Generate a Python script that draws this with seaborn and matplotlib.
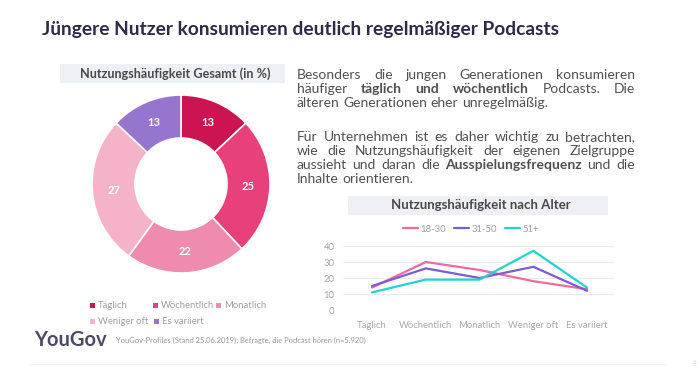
import matplotlib
matplotlib.use("Agg")
import matplotlib.pyplot as plt
from matplotlib.patches import Rectangle
from matplotlib.lines import Line2D
import seaborn as sns
import pandas as pd
import numpy as np

# ---------------- data ----------------
categories = ["Täglich", "Wöchentlich", "Monatlich", "Weniger oft", "Es variiert"]
gesamt = [13, 25, 22, 27, 13]
donut_colors = ["#CC1452", "#E8407A", "#F08BB0", "#F5B3C9", "#9575CD"]

age_groups = ["18-30", "31-50", "51+"]
v_18_30 = [14, 30, 25, 18, 13]
v_31_50 = [15, 26, 20, 27, 12]
v_51 = [11, 19, 19, 37, 14]
line_colors = ["#F06A9E", "#7B5CD6", "#22D3CF"]
y_ticks = [0, 10, 20, 30, 40]

title = "Jüngere Nutzer konsumieren deutlich regelmäßiger Podcasts"
donut_title = "Nutzungshäufigkeit Gesamt (in %)"
line_title = "Nutzungshäufigkeit nach Alter"
footnote = "YouGov-Profiles (Stand 25.06.2019); Befragte, die Podcast hören (n=5.920)"

para_lines = [
    ([("Besonders die jungen Generationen konsumieren", False)], True),
    ([("häufiger", False), ("täglich und wöchentlich", True), ("Podcasts. Die", False)], True),
    ([("älteren Generationen eher unregelmäßig.", False)], False),
    None,
    ([("Für Unternehmen ist es daher wichtig zu betrachten,", False)], True),
    ([("wie die Nutzungshäufigkeit der eigenen Zielgruppe", False)], True),
    ([("aussieht und daran die", False), ("Ausspielungsfrequenz", True), ("und die", False)], True),
    ([("Inhalte orientieren.", False)], False),
]

# ---------------- setup ----------------
sns.set_style("white")
plt.rcParams["font.family"] = ["Lato", "DejaVu Sans"]

W, H = 700, 368
fig = plt.figure(figsize=(7, 3.68), dpi=100)
fig.patch.set_facecolor("white")

def fx(x):
    return x / W

def fy(y):
    return 1 - y / H

def ax_rect(x0, y0, x1, y1):
    return [fx(x0), fy(y1), (x1 - x0) / W, (y1 - y0) / H]

# title
fig.text(fx(42), fy(29), title, fontsize=13.8, fontweight="bold",
         color="#2E2A48", va="center", ha="left")

# ---------------- donut ----------------
fig.patches.append(Rectangle((fx(60), fy(83)), (285 - 60) / W, (83 - 64) / H,
                             transform=fig.transFigure, facecolor="#EFEFF6",
                             edgecolor="none", zorder=0))
fig.text(fx(175), fy(74), donut_title, fontsize=9.1, fontweight="bold",
         color="#4A4A4A", ha="center", va="center")

cx, cy, R = 181, 184, 89
axd = fig.add_axes(ax_rect(cx - 100, cy - 100, cx + 100, cy + 100))
wedges, _ = axd.pie(gesamt, colors=donut_colors, startangle=90, counterclock=False,
                    radius=0.89, wedgeprops=dict(width=0.43, edgecolor="white", linewidth=1.2))
axd.set_xlim(-1, 1)
axd.set_ylim(-1, 1)
axd.set_aspect("equal")
axd.axis("off")
cum = 0
for v in gesamt:
    mid = 90 - (cum + v / 2) / sum(gesamt) * 360
    r = 0.675
    axd.text(r * np.cos(np.radians(mid)), r * np.sin(np.radians(mid)), str(v),
             color="white", fontsize=8, fontweight="bold", ha="center", va="center")
    cum += v

# donut legend
leg_pos = [(92, 305), (155, 305), (218, 305), (92, 321), (156, 321)]
for (lx, ly), cat, col in zip(leg_pos, categories, donut_colors):
    fig.patches.append(Rectangle((fx(lx - 2.5), fy(ly + 2.5)), 5 / W, 5 / H,
                                 transform=fig.transFigure, facecolor=col, edgecolor="none"))
    fig.text(fx(lx + 6), fy(ly), cat, fontsize=6.8, color="#A0A0A0", ha="left", va="center")

# ---------------- paragraph (justified) ----------------
renderer = fig.canvas.get_renderer()
x_left, x_right = 297, 635
line_y = [75, 89, 103, None, 137, 151, 165, 179]
fs = 10.0
tt = fig.text(0, 0, "a a", fontsize=fs)
t2 = fig.text(0, 0, "aa", fontsize=fs)
space_w = tt.get_window_extent(renderer).width - t2.get_window_extent(renderer).width
tt.remove(); t2.remove()
for item, yy in zip(para_lines, line_y):
    if item is None:
        continue
    segs, justify = item
    words = []
    for s, b in segs:
        for w in s.split(" "):
            words.append((w, b))
    texts = []
    widths = []
    for w, b in words:
        t = fig.text(0, fy(yy), w, fontsize=fs, color="#505050",
                     fontweight="bold" if b else "normal", ha="left", va="center")
        texts.append(t)
        widths.append(t.get_window_extent(renderer).width)
    if justify and len(words) > 1:
        gap = (x_right - x_left - sum(widths)) / (len(words) - 1)
    else:
        gap = space_w
    x = x_left
    for t, wdt in zip(texts, widths):
        t.set_x(fx(x))
        x += wdt + gap

# ---------------- line chart ----------------
fig.patches.append(Rectangle((fx(348), fy(215)), (608 - 348) / W, (215 - 196) / H,
                             transform=fig.transFigure, facecolor="#EFEFF6",
                             edgecolor="none", zorder=0))
fig.text(fx(481), fy(205), line_title, fontsize=9.5, fontweight="bold",
         color="#4A4A4A", ha="center", va="center")

df = pd.DataFrame({
    "Kategorie": categories * 3,
    "Wert": v_18_30 + v_31_50 + v_51,
    "Alter": [age_groups[0]] * 5 + [age_groups[1]] * 5 + [age_groups[2]] * 5,
})
axl = fig.add_axes(ax_rect(343, 246, 614, 310))
sns.lineplot(data=df, x="Kategorie", y="Wert", hue="Alter", palette=line_colors,
             sort=False, linewidth=1.6, ax=axl, legend=False)
for ln in axl.lines:
    ln.set_clip_on(False)
axl.set_xlim(-0.54, 4.5)
axl.set_ylim(0, 40)
axl.set_yticks(y_ticks)
axl.set_yticklabels([str(t) for t in y_ticks])
axl.grid(axis="y", color="#EBEBEB", linewidth=0.8)
axl.grid(axis="x", visible=False)
for s in axl.spines.values():
    s.set_visible(False)
axl.set_xlabel("")
axl.set_ylabel("")
axl.tick_params(axis="both", length=0, colors="#A8A8A8", labelsize=6.8)
axl.tick_params(axis="x", pad=8)
axl.tick_params(axis="y", pad=6)

handles = [Line2D([0], [0], color=c, lw=1.6) for c in line_colors]
fig.legend(handles, age_groups, loc="center", bbox_to_anchor=(fx(471), fy(229)),
           ncol=3, frameon=False, fontsize=6.8, handlelength=1.6, handletextpad=0.3,
           columnspacing=0.8, labelcolor="#A0A0A0")

# ---------------- footer ----------------
fig.text(fx(34), fy(340), "YouGov", fontsize=14.5, fontweight="bold",
         color="#4B4B63", ha="left", va="center")
fig.text(fx(116), fy(340), footnote, fontsize=5.45, color="#9A9A9A",
         ha="left", va="center")
fig.add_artist(Line2D([fx(30), fx(665)], [fy(364), fy(364)], transform=fig.transFigure,
                      color="#F2F2F2", lw=0.8))
fig.text(fx(694), fy(362), "6", fontsize=4.5, color="#C8C8C8", ha="center", va="center")

fig.savefig("out.png", dpi=100, facecolor="white")
